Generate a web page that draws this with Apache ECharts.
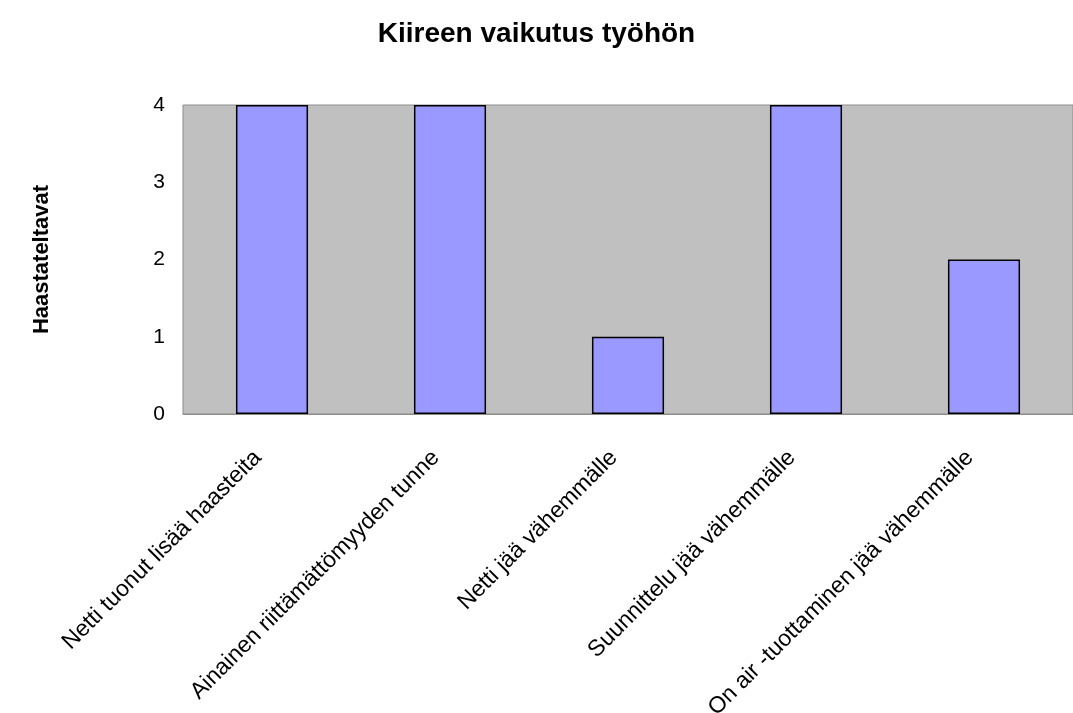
<!DOCTYPE html>
<html><head><meta charset="utf-8">
<script src="https://cdn.jsdelivr.net/npm/echarts@6/dist/echarts.min.js"></script>
<style>html,body{margin:0;padding:0;background:#fff}#c{width:1073px;height:713px}</style>
</head><body><div id="c"></div>
<script>
const categories = ["Netti tuonut lisää haasteita","Ainainen riittämättömyyden tunne","Netti jää vähemmälle","Suunnittelu jää vähemmälle","On air -tuottaminen jää vähemmälle"];
const values = [4,4,1,4,2];
const yTicks = [0,1,2,3,4];
const chart = echarts.init(document.getElementById('c'));
chart.setOption({
  animation:false,
  backgroundColor:'#ffffff',
  title:{text:'Kiireen vaikutus työhön',left:'center',top:15,textStyle:{fontFamily:'Liberation Sans, Arial',fontWeight:'bold',fontSize:28,color:'#000'}},
  grid:{left:183,top:105,right:0,bottom:299,containLabel:false,outerBoundsMode:'none',show:true,backgroundColor:'#c0c0c0',borderColor:'#8c8c8c',borderWidth:1},
  xAxis:{type:'category',data:categories,
    axisLine:{show:true,lineStyle:{color:'#8c8c8c',width:1}},axisTick:{show:false},
    axisLabel:{rotate:45,interval:0,fontFamily:'Liberation Sans, Arial',fontSize:23,color:'#000',margin:26,padding:[0,20,0,0]}},
  yAxis:{type:'value',min:yTicks[0],max:yTicks[yTicks.length-1],interval:1,
    name:'Haastateltavat',nameLocation:'middle',nameGap:130,nameRotate:90,
    nameTextStyle:{fontFamily:'Liberation Sans, Arial',fontWeight:'bold',fontSize:22,color:'#000'},
    axisLine:{show:false},axisTick:{show:false},splitLine:{show:false},
    axisLabel:{fontFamily:'Liberation Sans, Arial',fontSize:21,color:'#000',margin:18}},
  series:[{type:'bar',data:values,barWidth:'40.5%',
    itemStyle:{color:'#9999ff',borderColor:'#000',borderWidth:1.5}}]
});
</script></body></html>
